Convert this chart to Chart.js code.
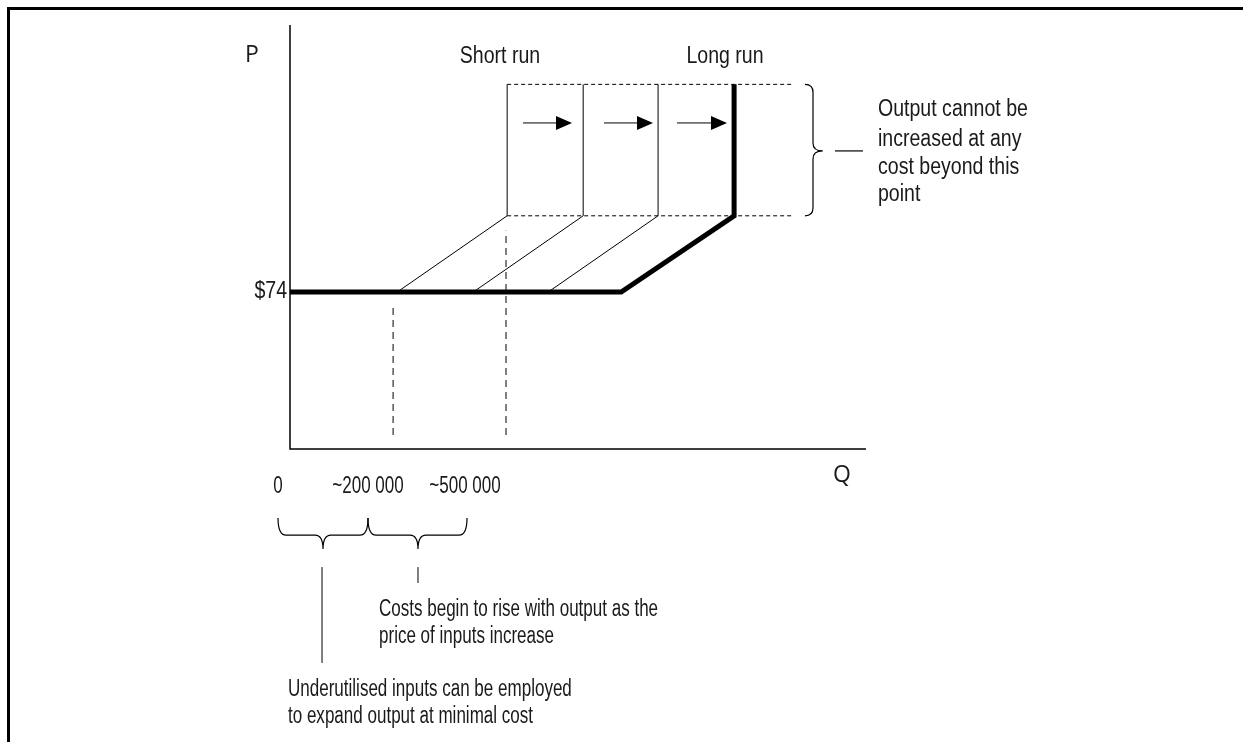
<!DOCTYPE html>
<html>
<head>
<meta charset="utf-8">
<script src="https://cdn.jsdelivr.net/npm/chart.js@4.4.1/dist/chart.umd.min.js"></script>
<style>
  html, body { margin: 0; padding: 0; background: #fff; }
  #wrap { width: 1243px; height: 742px; }
</style>
</head>
<body>
<div id="wrap"><canvas id="grafico" width="1243" height="742"></canvas></div>
<script>
// ==================== DATOS (Q en miles, P en $) ====================
const precioBase = 74;
const techoBajo = 110;   // nivel donde empieza la capacidad máxima
const techoAlto = 172;   // tope de la capacidad

// curva de largo plazo (gruesa)
const largoQ = [0, 575, 771, 771];
const largoP = [precioBase, precioBase, techoBajo, techoAlto];

// curvas de corto plazo (finas): inicio en P=74, codo y vertical
const cortoInicioQ = [186, 318, 448];
const cortoCodoQ = [377, 509, 639];

// líneas punteadas
const punteadaFinQ = 873;
const verticalQ = [179, 375];
const verticalDesde = [6.6, 6.6];
const verticalHasta = [66.5, 103];

// flechas de desplazamiento
const flechaDesde = [404.5, 545.1, 671.9];
const flechaHasta = [489.6, 630.2, 758.7];
const flechaP = 153.8;

// etiquetas de eje
const etiquetasQ = ["0", "~200 000", "~500 000"];
const etiquetasQpos = [-20.8, 135.4, 303.8];

const notaDerecha = ["Output cannot be", "increased at any", "cost beyond this", "point"];
const notaCostos = ["Costs begin to rise with output as the", "price of inputs increase"];
const notaInsumos = ["Underutilised inputs can be employed", "to expand output at minimal cost"];

const FUENTE = "'Liberation Sans', Arial, sans-serif";
const FUENTE_EJE = "'Open Sans', 'DejaVu Sans', sans-serif";

function linea(qs, ps) { return qs.map((q, i) => ({ x: q, y: ps[i] })); }

const datasets = [];
datasets.push({ data: linea(largoQ, largoP), borderColor: '#000', borderWidth: 5, borderJoinStyle: 'miter' });
for (let i = 0; i < cortoInicioQ.length; i++) {
  datasets.push({
    data: linea([cortoInicioQ[i], cortoCodoQ[i], cortoCodoQ[i]], [precioBase, techoBajo, techoAlto]),
    borderColor: '#000', borderWidth: 1
  });
}
datasets.push({ data: linea([cortoCodoQ[0], punteadaFinQ], [techoAlto, techoAlto]), borderColor: '#000', borderWidth: 1, borderDash: [4, 3] });
datasets.push({ data: linea([cortoCodoQ[0], punteadaFinQ], [techoBajo, techoBajo]), borderColor: '#000', borderWidth: 1, borderDash: [4, 3] });
for (let i = 0; i < verticalQ.length; i++) {
  datasets.push({ data: linea([verticalQ[i], verticalQ[i]], [verticalDesde[i], verticalHasta[i]]), borderColor: '#000', borderWidth: 1, borderDash: [7, 5] });
}
datasets.forEach(d => { d.showLine = true; d.pointRadius = 0; d.fill = false; d.clip = false; });

// ==================== DIBUJO EXTRA ====================
function llave(ctx, x1, x2, xm, yTop, yMid, yTip) {
  const r = Math.min(8, (yMid - yTop));
  ctx.beginPath();
  ctx.moveTo(x1, yTop);
  ctx.quadraticCurveTo(x1, yMid, x1 + r, yMid);
  ctx.lineTo(xm - r, yMid);
  ctx.quadraticCurveTo(xm, yMid, xm, yTip);
  ctx.quadraticCurveTo(xm, yMid, xm + r, yMid);
  ctx.lineTo(x2 - r, yMid);
  ctx.quadraticCurveTo(x2, yMid, x2, yTop);
  ctx.stroke();
}
function llaveVertical(ctx, y1, y2, ym, xIn, xMid, xTip) {
  const r = 8;
  ctx.beginPath();
  ctx.moveTo(xIn, y1);
  ctx.quadraticCurveTo(xMid, y1, xMid, y1 + r);
  ctx.lineTo(xMid, ym - r);
  ctx.quadraticCurveTo(xMid, ym, xTip, ym);
  ctx.quadraticCurveTo(xMid, ym, xMid, ym + r);
  ctx.lineTo(xMid, y2 - r);
  ctx.quadraticCurveTo(xMid, y2, xIn, y2);
  ctx.stroke();
}
// texto condensado horizontalmente (la fuente original es angosta)
function texto(ctx, t, x, y, align, escala) {
  ctx.save();
  ctx.translate(x, y);
  ctx.scale(escala, 1);
  ctx.textAlign = align;
  ctx.fillText(t, 0, 0);
  ctx.restore();
}

const extras = {
  id: 'extras',
  afterDatasetsDraw(chart) {
    const ctx = chart.ctx;
    const a = chart.chartArea;
    const X = v => chart.scales.x.getPixelForValue(v);
    const Y = v => chart.scales.y.getPixelForValue(v);
    ctx.save();
    // marco
    ctx.strokeStyle = '#000';
    ctx.lineWidth = 3;
    ctx.beginPath();
    ctx.moveTo(8.5, 760); ctx.lineTo(8.5, 8.5); ctx.lineTo(1243, 8.5);
    ctx.stroke();
    // ejes
    ctx.lineWidth = 1.5;
    ctx.beginPath();
    ctx.moveTo(a.left, a.top); ctx.lineTo(a.left, a.bottom); ctx.lineTo(a.right, a.bottom);
    ctx.stroke();
    // flechas
    ctx.lineWidth = 1;
    ctx.fillStyle = '#000';
    for (let i = 0; i < flechaDesde.length; i++) {
      const x0 = X(flechaDesde[i]), x1 = X(flechaHasta[i]), y = Y(flechaP);
      ctx.beginPath(); ctx.moveTo(x0, y); ctx.lineTo(x1 - 14, y); ctx.stroke();
      ctx.beginPath(); ctx.moveTo(x1, y); ctx.lineTo(x1 - 16, y - 7); ctx.lineTo(x1 - 16, y + 7); ctx.closePath(); ctx.fill();
    }
    // llaves
    ctx.lineWidth = 1.2;
    llaveVertical(ctx, Y(techoAlto), Y(techoBajo), Y(140.6), X(894), X(908), X(925));
    ctx.beginPath(); ctx.moveTo(X(946.2), Y(140.6)); ctx.lineTo(X(994.8), Y(140.6)); ctx.stroke();
    llave(ctx, X(-20.8), X(135.4), X(57.3), Y(-32.5), Y(-40.6), Y(-47.2));
    llave(ctx, X(135.4), X(307.3), X(222.2), Y(-32.5), Y(-40.6), Y(-47.2));
    ctx.lineWidth = 1;
    ctx.beginPath(); ctx.moveTo(X(55.6), Y(-55.7)); ctx.lineTo(X(55.6), Y(-100.9)); ctx.stroke();
    ctx.beginPath(); ctx.moveTo(X(222.2), Y(-55.7)); ctx.lineTo(X(222.2), Y(-63.2)); ctx.stroke();

    // textos
    ctx.fillStyle = '#1a1a1a';
    ctx.textBaseline = 'middle';
    ctx.font = '23px ' + FUENTE_EJE;
    ctx.textAlign = 'center';
    ctx.fillText('P', X(-66), Y(185.8));
    ctx.fillText('Q', X(958.3), Y(-12.3));
    ctx.font = '23px ' + FUENTE;
    texto(ctx, 'Short run', X(364.6), Y(184.9), 'center', 0.85);
    texto(ctx, 'Long run', X(755.2), Y(184.9), 'center', 0.85);
    texto(ctx, '$' + precioBase, X(-5.2), Y(precioBase), 'right', 0.85);
    const yDer = [159.9, 145.8, 132.5, 119.8];
    notaDerecha.forEach((t, i) => texto(ctx, t, X(1020.8), Y(yDer[i]), 'left', 0.85));
    for (let i = 0; i < etiquetasQ.length; i++) texto(ctx, etiquetasQ[i], X(etiquetasQpos[i]), Y(-17.9), 'center', 0.74);
    notaCostos.forEach((t, i) => texto(ctx, t, X(154.5), Y(-75.9 - i * 12.8), 'left', 0.74));
    notaInsumos.forEach((t, i) => texto(ctx, t, X(-3.5), Y(-113.7 - i * 12.7), 'left', 0.74));
    ctx.restore();
  }
};

new Chart(document.getElementById('grafico'), {
  type: 'scatter',
  data: { datasets },
  options: {
    responsive: false,
    animation: false,
    devicePixelRatio: 1,
    layout: { padding: { left: 290, top: 25, right: 1243 - 866, bottom: 742 - 449 } },
    plugins: { legend: { display: false }, tooltip: { enabled: false } },
    scales: {
      x: { type: 'linear', min: 0, max: 1000, display: false },
      y: { type: 'linear', min: 0, max: 200, display: false }
    }
  },
  plugins: [extras]
});
</script>
</body>
</html>
